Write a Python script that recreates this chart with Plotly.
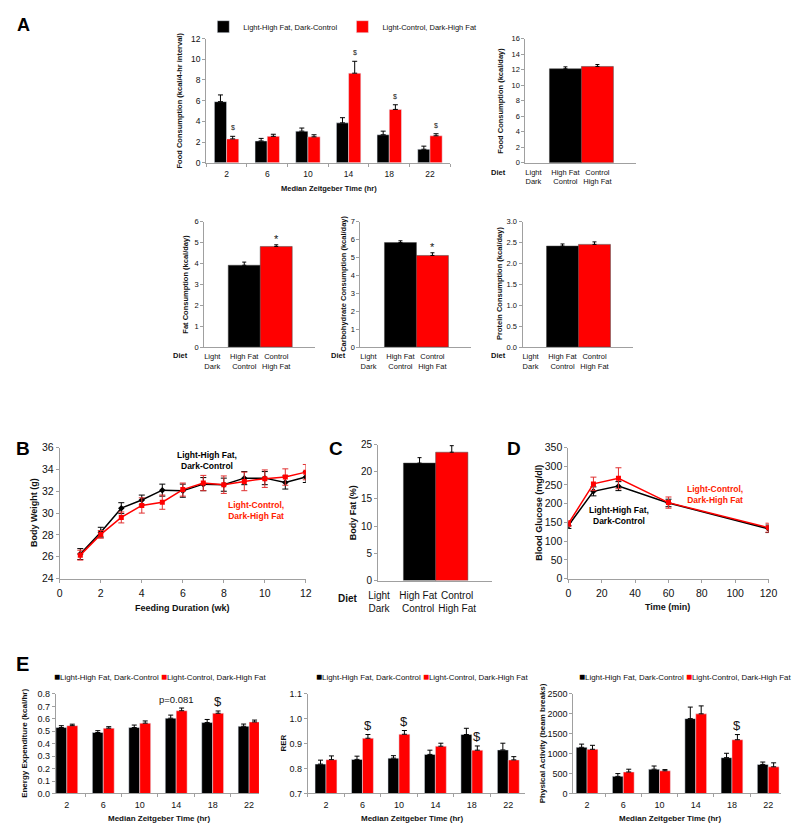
import plotly.graph_objects as go

W, H = 800, 833
FONT = "Arial, 'Liberation Sans', Helvetica, sans-serif"
BLACK = "#000000"
RED = "#FF0000"
RED_TXT = "#FF2200"
AX = "#A0A0A0"

# ---------------- data ----------------
series_names = ["Light-High Fat, Dark-Control", "Light-Control, Dark-High Fat"]
zt_labels = ["2", "6", "10", "14", "18", "22"]

# Panel A: food consumption per 4-hr interval
food4_black = [5.9, 2.1, 3.05, 3.85, 2.7, 1.3]
food4_black_err = [0.65, 0.25, 0.3, 0.5, 0.35, 0.3]
food4_red = [2.3, 2.55, 2.5, 8.65, 5.15, 2.6]
food4_red_err = [0.25, 0.2, 0.2, 1.15, 0.45, 0.2]
food4_sig = ["$", "", "", "$", "$", "$"]

# Panel A: daily intake (black = High Fat/Control, red = Control/High Fat)
diet_ticks = [0, 1, 2]
diet_labels = ["Light<br>Dark", "High Fat<br>Control", "Control<br>High Fat"]
food_day = [12.1, 12.4]
food_day_err = [0.25, 0.25]
fat_day = [3.92, 4.82]
fat_day_err = [0.15, 0.08]
fat_sig = ["", "*"]
carb_day = [5.84, 5.12]
carb_day_err = [0.1, 0.15]
carb_sig = ["", "*"]
prot_day = [2.42, 2.46]
prot_day_err = [0.05, 0.06]

# Panel B: body weight
weeks = [1, 2, 3, 4, 5, 6, 7, 8, 9, 10, 11, 12]
bw_black = [26.25, 28.25, 30.45, 31.2, 32.1, 32.05, 32.65, 32.6, 33.2, 33.2, 32.8, 33.3]
bw_black_err = [0.5, 0.45, 0.5, 0.45, 0.55, 0.6, 0.6, 0.6, 0.6, 0.6, 0.6, 0.5]
bw_red = [26.15, 28.05, 29.6, 30.7, 31.0, 32.15, 32.75, 32.6, 32.9, 33.15, 33.3, 33.75]
bw_red_err = [0.45, 0.35, 0.5, 0.7, 0.65, 0.6, 0.7, 0.8, 0.85, 0.8, 0.75, 0.7]

# Panel C: body fat
body_fat = [21.6, 23.6]
body_fat_err = [1.0, 1.2]

# Panel D: glucose tolerance
gtt_time = [0, 15, 30, 60, 120]
gtt_black = [142, 233, 247, 202, 133]
gtt_black_err = [8, 12, 12, 10, 10]
gtt_red = [147, 253, 268, 203, 136]
gtt_red_err = [8, 18, 28, 15, 12]

# Panel E
ee_black = [0.53, 0.49, 0.53, 0.605, 0.57, 0.54]
ee_black_err = [0.015, 0.015, 0.02, 0.025, 0.025, 0.018]
ee_red = [0.545, 0.525, 0.565, 0.665, 0.645, 0.575]
ee_red_err = [0.012, 0.012, 0.018, 0.022, 0.018, 0.015]
ee_sig = ["", "", "", "", "$", ""]
ee_note = ["", "", "", "p=0.081", "", ""]

rer_black = [0.818, 0.837, 0.842, 0.857, 0.937, 0.875]
rer_black_err = [0.016, 0.013, 0.01, 0.017, 0.025, 0.027]
rer_red = [0.836, 0.922, 0.938, 0.89, 0.874, 0.835]
rer_red_err = [0.015, 0.015, 0.015, 0.012, 0.017, 0.013]
rer_sig = ["", "$", "$", "", "$", ""]

pa_black = [1160, 430, 610, 1880, 900, 730]
pa_black_err = [80, 70, 80, 290, 110, 60]
pa_red = [1110, 540, 570, 2000, 1350, 670]
pa_red_err = [100, 70, 30, 200, 130, 100]
pa_sig = ["", "", "", "", "$", ""]

# ---------------- helpers ----------------
BARGAP = 0.4


def px(x):
    return x / W


def py(y):
    return 1 - y / H


fig = go.Figure()
layout = dict(
    width=W, height=H, autosize=False,
    margin=dict(l=0, r=0, t=0, b=0),
    paper_bgcolor="white", plot_bgcolor="white",
    barmode="group", bargap=BARGAP, bargroupgap=0,
    font=dict(family=FONT, color="#111"),
    showlegend=True,
)
annotations = []


def axid(k):
    return "" if k == 1 else str(k)


def add_axes(k, xl, xr, yt, yb, xopts, yopts, fs):
    base = dict(showline=True, linecolor=AX, linewidth=1, ticks="outside",
                tickcolor=AX, ticklen=3, tickwidth=1, showgrid=False,
                zeroline=False, fixedrange=True,
                tickfont=dict(family=FONT, size=fs, color="#111"))
    xa = dict(base, domain=[px(xl), px(xr)], anchor="y" + axid(k), tickangle=0)
    xa.update(xopts)
    ya = dict(base, domain=[py(yb), py(yt)], anchor="x" + axid(k))
    ya.update(yopts)
    layout["xaxis" + axid(k)] = xa
    layout["yaxis" + axid(k)] = ya


def ann(text, x, y, size, bold=False, color="#111", angle=0, xanchor="center", yanchor="middle", **kw):
    if bold:
        text = "<b>" + text + "</b>"
    d = dict(text=text, x=px(x), y=py(y), xref="paper", yref="paper", showarrow=False,
             font=dict(family=FONT, size=size, color=color), textangle=angle,
             xanchor=xanchor, yanchor=yanchor)
    d.update(kw)
    annotations.append(d)


def err_up(arr, width=2.5):
    return dict(type="data", array=arr, arrayminus=[0] * len(arr), symmetric=False,
                color=BLACK, thickness=1, width=width, visible=True)


def grouped(k, black, black_err, red, red_err, legend=None, show=False):
    xa, ya = "x" + axid(k), "y" + axid(k)
    fig.add_trace(go.Bar(x=zt_labels, y=black, name=series_names[0], marker_color=BLACK,
                         error_y=err_up(black_err), xaxis=xa, yaxis=ya,
                         showlegend=show, legend=legend or "legend"))
    fig.add_trace(go.Bar(x=zt_labels, y=red, name=series_names[1], marker_color=RED,
                         error_y=err_up(red_err), xaxis=xa, yaxis=ya,
                         showlegend=show, legend=legend or "legend"))


def diet_bars(k, vals, errs, width=1, offset=None):
    xa, ya = "x" + axid(k), "y" + axid(k)
    kw = dict(width=width)
    if offset is not None:
        kw["offset"] = offset
    fig.add_trace(go.Bar(x=diet_ticks[1:], y=vals, marker_color=[BLACK, RED],
                         marker_line=dict(color="#444", width=0.5),
                         error_y=err_up(errs, 2), xaxis=xa, yaxis=ya, showlegend=False, **kw))


def sig_marks(k, marks, vals, errs, offset, size, yshift=2):
    for i, m in enumerate(marks):
        if m:
            annotations.append(dict(text=m, x=i + offset if isinstance(offset, float) else offset[i],
                                    y=vals[i] + errs[i], xref="x" + axid(k), yref="y" + axid(k),
                                    showarrow=False, yanchor="bottom", yshift=yshift,
                                    font=dict(family=FONT, size=size, color="#111")))


red_off = (1 - BARGAP) / 4
cat_x = dict(type="category", tickson="boundaries")

# ---------------- Panel A ----------------
ann("A", 14, 19, 18, bold=True, color=BLACK)
FA = 7.5
# A1
add_axes(1, 201, 451, 33, 159,
         dict(cat_x, range=[-0.5, 5.5], ticklabelstandoff=3),
         dict(range=[0, 12], dtick=2), 8.5)
grouped(1, food4_black, food4_black_err, food4_red, food4_red_err, legend="legend", show=True)
sig_marks(1, food4_sig, food4_red, food4_red_err, red_off, 7, 3)
ann("Food Consumption (kcal/4-hr interval)", 174, 96, FA, bold=True, angle=-90)
ann("Median Zeitgeber Time (hr)", 327, 185, FA, bold=True)
layout["legend"] = dict(orientation="h", x=px(198), y=py(21), xanchor="left", yanchor="middle",
                        font=dict(family=FONT, size=FA, color="#111"), bgcolor="rgba(0,0,0,0)",
                        itemwidth=30, tracegroupgap=0)

diet_x = dict(tickvals=diet_ticks, ticktext=diet_labels, range=[-0.25, 3.2], ticks="",
              ticklabelstandoff=2)
# A2
add_axes(2, 528, 641, 33, 159, diet_x, dict(range=[0, 16], dtick=2), FA)
diet_bars(2, food_day, food_day_err)
ann("Food Consumption (kcal/day)", 503, 96, FA, bold=True, angle=-90)
ann("Diet", 500, 169, FA, bold=True)
# Fat
add_axes(3, 199, 312, 219, 346, diet_x, dict(range=[0, 6], dtick=1), FA)
diet_bars(3, fat_day, fat_day_err)
sig_marks(3, fat_sig, fat_day, fat_day_err, [1, 2], 11, -2)
ann("Fat Consumption (kcal/day)", 180, 282, FA, bold=True, angle=-90)
ann("Diet", 175, 355, FA, bold=True)
# Carb
add_axes(4, 359, 472, 219, 346, diet_x, dict(range=[0, 7], dtick=1), FA)
diet_bars(4, carb_day, carb_day_err)
sig_marks(4, carb_sig, carb_day, carb_day_err, [1, 2], 11, -2)
ann("Carbohydrate Consumption (kcal/day)", 342, 282, FA, bold=True, angle=-90)
ann("Diet", 336, 355, FA, bold=True)
# Protein
add_axes(5, 525, 638, 219, 346, diet_x, dict(range=[0, 3], dtick=0.5, tickformat=".1f"), FA)
diet_bars(5, prot_day, prot_day_err)
ann("Protein Consumption (kcal/day)", 502, 282, FA, bold=True, angle=-90)
ann("Diet", 500, 355, FA, bold=True)

# ---------------- Panel B ----------------
FB = 10.5
ann("B", 13, 449, 19, bold=True, color=BLACK)
add_axes(6, 51, 303, 448, 581, dict(range=[0, 12], dtick=2, ticklabelstandoff=2),
         dict(range=[24, 36], dtick=2), FB)
fig.add_trace(go.Scatter(x=weeks, y=bw_black, mode="lines+markers", name=series_names[0],
                         line=dict(color=BLACK, width=1.5),
                         marker=dict(symbol="diamond", size=5, color=BLACK),
                         error_y=dict(type="data", array=bw_black_err, color=BLACK, thickness=1, width=3),
                         xaxis="x6", yaxis="y6", showlegend=False))
fig.add_trace(go.Scatter(x=weeks, y=bw_red, mode="lines+markers", name=series_names[1],
                         line=dict(color=RED, width=1.5),
                         marker=dict(symbol="square", size=5, color=RED),
                         error_y=dict(type="data", array=bw_red_err, color="#E03030", thickness=1, width=3),
                         xaxis="x6", yaxis="y6", showlegend=False))
ann("Light-High Fat,<br>Dark-Control", 202, 461, 8.5, bold=True, color=BLACK)
ann("Light-Control,<br>Dark-High Fat", 252, 512, 8.5, bold=True, color=RED_TXT)
ann("Body Weight (g)", 24, 514, 9, bold=True, angle=-90)
ann("Feeding Duration (wk)", 177, 611, 9, bold=True)

# ---------------- Panel C ----------------
ann("C", 334, 449, 19, bold=True, color=BLACK)
add_axes(7, 377, 494, 445, 583,
         dict(tickvals=diet_ticks, ticktext=diet_labels, range=[-0.025, 2.9], ticks="",
              ticklabelstandoff=5, tickangle=0),
         dict(range=[0, 25], dtick=5), 10)
diet_bars(7, body_fat, body_fat_err, width=0.825, offset=[-0.375, -0.55])
ann("Body Fat (%)", 351, 514, 9, bold=True, angle=-90)
ann("Diet", 346, 601, 10, bold=True)

# ---------------- Panel D ----------------
ann("D", 516, 449, 19, bold=True, color=BLACK)
add_axes(8, 572, 777, 448, 581, dict(range=[0, 120], dtick=20, ticklabelstandoff=2),
         dict(range=[0, 350], dtick=50), FB)
fig.add_trace(go.Scatter(x=gtt_time, y=gtt_black, mode="lines+markers", name=series_names[0],
                         line=dict(color=BLACK, width=1.5),
                         marker=dict(symbol="diamond", size=5, color=BLACK),
                         error_y=dict(type="data", array=gtt_black_err, color=BLACK, thickness=1, width=3),
                         xaxis="x8", yaxis="y8", showlegend=False))
fig.add_trace(go.Scatter(x=gtt_time, y=gtt_red, mode="lines+markers", name=series_names[1],
                         line=dict(color=RED, width=1.5),
                         marker=dict(symbol="square", size=5, color=RED),
                         error_y=dict(type="data", array=gtt_red_err, color="#E03030", thickness=1, width=3),
                         xaxis="x8", yaxis="y8", showlegend=False))
ann("Light-Control,<br>Dark-High Fat", 722, 496, 8.5, bold=True, color=RED_TXT)
ann("Light-High Fat,<br>Dark-Control", 624, 517, 8.5, bold=True, color=BLACK)
ann("Blood Glucose (mg/dl)", 541, 514, 9, bold=True, angle=-90)
ann("Time (min)", 673, 610, 9, bold=True)

# ---------------- Panel E ----------------
FE = 9
ann("E", 13, 668, 20, bold=True, color=BLACK)
key = ("<span style='color:#000000;font-size:10px'>■</span>" + series_names[0] +
       " <span style='color:#FF0000;font-size:10px'>■</span>" + series_names[1])
# E1
add_axes(9, 47, 255, 698, 799, dict(cat_x, range=[-0.3, 5.27], ticklabelstandoff=3),
         dict(range=[0, 0.8], dtick=0.1, tickformat=".1f"), FE)
grouped(9, ee_black, ee_black_err, ee_red, ee_red_err)
sig_marks(9, ee_sig, ee_red, ee_red_err, red_off, 13, 0)
sig_marks(9, ee_note, ee_red, ee_red_err, 0.0, 9.5, 1)
ann(key, 43, 680, 7.9, xanchor="left")
ann("Energy Expenditure (kcal/hr)", 15, 748, 8, bold=True, angle=-90)
ann("Median Zeitgeber Time (hr)", 153, 824, 8, bold=True)
# E2
add_axes(10, 305, 528, 698, 799, dict(cat_x, range=[-0.5, 5.47], ticklabelstandoff=3),
         dict(range=[0.7, 1.1], dtick=0.1, tickformat=".1f"), FE)
grouped(10, rer_black, rer_black_err, rer_red, rer_red_err)
sig_marks(10, rer_sig, rer_red, rer_red_err, red_off, 13, 0)
ann(key, 311, 680, 7.9, xanchor="left")
ann("RER", 280, 748, 8, bold=True, angle=-90)
ann("Median Zeitgeber Time (hr)", 412, 824, 8, bold=True)
# E3
add_axes(11, 577, 790, 698, 799, dict(cat_x, range=[-0.38, 5.36], ticklabelstandoff=3),
         dict(range=[0, 2500], dtick=500), FE)
grouped(11, pa_black, pa_black_err, pa_red, pa_red_err)
sig_marks(11, pa_sig, pa_red, pa_red_err, red_off, 13, 0)
ann(key, 581, 680, 7.9, xanchor="left")
ann("Physical Activity (beam breaks)", 545, 748, 8, bold=True, angle=-90)
ann("Median Zeitgeber Time (hr)", 676, 824, 8, bold=True)

layout["annotations"] = annotations
fig.update_layout(**layout)
fig.write_html("out.html", config={"displayModeBar": False},
               post_script="document.body.style.margin='0';")
